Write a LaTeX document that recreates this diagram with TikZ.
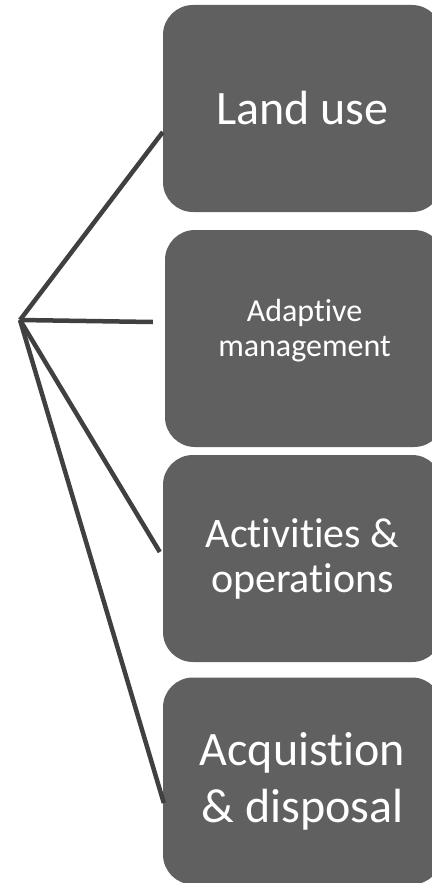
\documentclass[tikz,border=0pt]{standalone}
\usepackage{fontspec}
\setmainfont{Carlito}[RawFeature=-liga]
\usetikzlibrary{calc}
\usepackage{xcolor}
\definecolor{boxgray}{HTML}{606060}
\definecolor{linegray}{HTML}{404040}

\tikzset{
  topic/.style={fill=boxgray, text=white, rounded corners=30pt, align=center,
    minimum width=279pt, minimum height=207pt, inner sep=0pt},
  spoke/.style={linegray, line width=4.5pt}
}

\begin{document}
\begin{tikzpicture}[x=1pt, y=-1pt]
\useasboundingbox (0,0) rectangle (431,883);
\fill[white] (0,0) rectangle (431,883);
\node[topic, font=\fontsize{48}{56}\selectfont] (land) at (302.5,108.5) {Land use};
\node[topic, minimum height=217pt, text depth=22pt, font=\fontsize{32}{35}\selectfont] (adaptive) at (304.5,338.5) {Adaptive\\management};
\node[topic, font=\fontsize{42}{45}\selectfont] (activities) at (302.5,558.5) {Activities \&\\operations};
\node[topic, font=\fontsize{48}{57}\selectfont] (acquisition) at (302.5,781) {Acquistion\\\& disposal};
\coordinate (hub) at (20,320);
\draw[spoke] (hub)--($(land.west)+(0,23.5)$);
\draw[spoke] (hub)--($(adaptive.west)+(-12,-16.5)$);
\draw[spoke] (hub)--($(activities.west)+(-3,-6.5)$);
\draw[spoke] (hub)--($(acquisition.west)+(1,22)$);
\end{tikzpicture}
\end{document}
